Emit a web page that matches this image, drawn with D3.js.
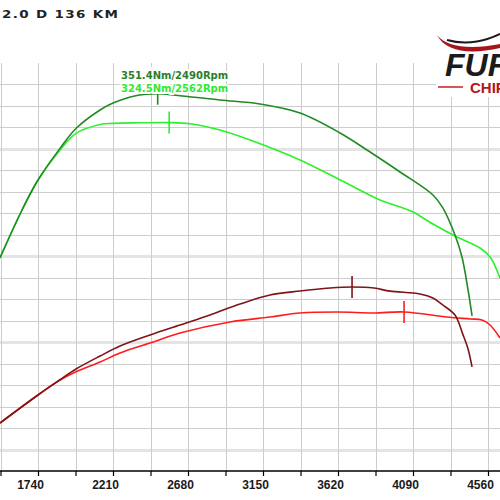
<!DOCTYPE html>
<html>
<head>
<meta charset="utf-8">
<script src="https://cdn.jsdelivr.net/npm/d3@7"></script>
<style>
  body { margin: 0; background: #fff; }
  svg { display: block; }
</style>
</head>
<body>
<svg id="chart" width="500" height="500"></svg>
<script>
const title = '2.0 D 136 KM';
const tickLabels = [1740, 2210, 2680, 3150, 3620, 4090, 4560];
const minorTicks = [1505, 1975, 2445, 2915, 3385, 3855, 4325];
const gridValues = [20, 40, 60, 80, 100, 120, 140, 160, 180, 200, 220, 240, 260, 280, 300, 320, 340, 360];
const majorGridValues = [20, 120, 200, 300];

// [rpm, value]
const tunedTorque = [
  [1502, 198.4], [1640, 243.1], [1740, 271.0], [1878, 300.5], [1978, 319.0],
  [2129, 336.2], [2210, 342.7], [2360, 349.8], [2490, 351.4], [2605, 350.0],
  [2881, 345.5], [3131, 341.8], [3382, 333.4], [3633, 314.8], [3821, 297.1],
  [4009, 278.5], [4215, 257.1], [4278, 244.9], [4353, 219.8], [4397, 199.3],
  [4435, 168.6], [4460, 144.4]
];
const stockTorque = [
  [1502, 199.0], [1640, 243.1], [1740, 271.0], [1878, 299.0], [1978, 314.5],
  [2129, 322.8], [2210, 323.8], [2379, 324.3], [2562, 324.5], [2693, 323.4],
  [2881, 317.6], [3069, 308.3], [3382, 289.7], [3695, 266.4], [3883, 252.4],
  [4009, 245.9], [4090, 241.2], [4215, 230.0], [4353, 218.9], [4510, 207.7],
  [4573, 199.3], [4635, 179.8]
];
const tunedPower = [
  [1502, 44.7], [1740, 70.8], [1878, 85.0], [1978, 95.0], [2129, 107.1],
  [2254, 116.4], [2442, 126.7], [2630, 136.0], [2818, 145.3], [3006, 155.5],
  [3194, 163.9], [3382, 167.6], [3570, 170.4], [3708, 171.4], [3846, 170.4],
  [3946, 167.5], [4134, 164.9], [4215, 161.1], [4278, 154.5], [4353, 145.3],
  [4403, 127.0], [4435, 113.6], [4460, 96.9]
];
const stockPower = [
  [1502, 44.7], [1740, 70.8], [1878, 84.7], [1978, 92.5], [2129, 101.5],
  [2254, 109.9], [2442, 119.2], [2630, 128.5], [2943, 138.8], [3194, 143.4],
  [3382, 147.2], [3614, 148.1], [3846, 147.2], [4034, 148.1], [4303, 143.4],
  [4447, 141.6], [4522, 140.6], [4573, 136.0], [4635, 123.9]
];

const seriesData = [stockPower, tunedPower, stockTorque, tunedTorque];
const seriesColors = ['#ff1c1c', '#7e1416', '#2cf02c', '#218a21'];
const peakRpm = [4034, 3708, 2562, 2490];
const peakValue = [148.1, 171.4, 324.5, 351.4];

const svg = d3.select('#chart');
const width = 500;
const margin = { top: 63, bottom: 29 };
const height = 500;

const x = d3.scaleLinear().domain([1740, 4560]).range([38, 488]);
const y = d3.scaleLinear().domain([0, 380]).range([height - margin.bottom, margin.top]);

const allTicks = tickLabels.concat(minorTicks).sort((a, b) => a - b);

// grid
const grid = svg.append('g');
grid.selectAll('line.h')
  .data(gridValues.filter(v => !majorGridValues.includes(v)))
  .enter()
  .append('line')
  .attr('x1', 0)
  .attr('x2', width)
  .attr('y1', d => Math.round(y(d)) + 0.5)
  .attr('y2', d => Math.round(y(d)) + 0.5)
  .attr('stroke', '#cdcdcd')
  .attr('stroke-width', 1);

grid.selectAll('line.m')
  .data(majorGridValues)
  .enter()
  .append('line')
  .attr('x1', 0)
  .attr('x2', width)
  .attr('y1', d => Math.round(y(d)) + 0.5)
  .attr('y2', d => Math.round(y(d)) + 0.5)
  .attr('stroke', '#e4e4e4')
  .attr('stroke-width', 3);

grid.selectAll('line.v')
  .data(allTicks)
  .enter()
  .append('line')
  .attr('x1', d => Math.round(x(d)) + 0.5)
  .attr('x2', d => Math.round(x(d)) + 0.5)
  .attr('y1', margin.top)
  .attr('y2', y(0))
  .attr('stroke', '#cdcdcd')
  .attr('stroke-width', 1);

// x axis
const xAxis = g =>
  g
    .attr('transform', `translate(0,${y(0)})`)
    .call(d3.axisBottom(x).tickValues(allTicks).tickSize(5).tickFormat(d => tickLabels.includes(d) ? d : ''))
    .call(g => g.select('.domain').attr('d', `M0,0H${width}`).attr('stroke', '#000').attr('stroke-width', 1.6))
    .call(g => g.selectAll('.tick line').attr('stroke', '#000').attr('stroke-width', 1.2))
    .call(g => g.selectAll('.tick text')
      .attr('dx', -8)
      .attr('y', 9)
      .attr('fill', '#1a1a1a')
      .attr('font-family', 'Liberation Sans, Arial, sans-serif')
      .attr('font-weight', 'bold')
      .attr('font-size', 12));
svg.append('g').call(xAxis);

// curves
const line = d3.line()
  .x(d => x(d[0]))
  .y(d => y(d[1]))
  .curve(d3.curveCatmullRom.alpha(0.5));

svg.append('defs').append('clipPath').attr('id', 'plotClip')
  .append('rect').attr('x', 0).attr('y', margin.top).attr('width', width).attr('height', y(0) - margin.top);

const curves = svg.append('g').attr('clip-path', 'url(#plotClip)');
curves.selectAll('path')
  .data(seriesData)
  .enter()
  .append('path')
  .attr('d', line)
  .attr('fill', 'none')
  .attr('stroke', (d, i) => seriesColors[i])
  .attr('stroke-width', 1.6);

// peak markers
curves.selectAll('line.peak')
  .data(peakRpm)
  .enter()
  .append('line')
  .attr('x1', d => x(d))
  .attr('x2', d => x(d))
  .attr('y1', (d, i) => y(peakValue[i]) - 11)
  .attr('y2', (d, i) => y(peakValue[i]) + 11)
  .attr('stroke', (d, i) => seriesColors[i])
  .attr('stroke-width', 1.6);

// torque peak labels
const labelColors = ['#2b7f2b', '#30ea30'];
const labelTexts = [
  `${peakValue[3]}Nm/${peakRpm[3]}Rpm`,
  `${peakValue[2]}Nm/${peakRpm[2]}Rpm`
];
svg.append('g')
  .selectAll('text')
  .data(labelTexts)
  .enter()
  .append('text')
  .attr('x', 121)
  .attr('y', (d, i) => 79 + i * 13)
  .attr('font-family', 'DejaVu Sans, sans-serif')
  .attr('font-weight', 'bold')
  .attr('font-size', 10)
  .attr('fill', (d, i) => labelColors[i])
  .attr('stroke', '#fff')
  .attr('stroke-width', 4)
  .attr('paint-order', 'stroke')
  .text(d => d);

// logo
const logo = svg.append('g');
logo.append('rect')
  .attr('x', 436).attr('y', 28).attr('width', 64).attr('height', 69)
  .attr('fill', '#fff');
logo.append('path')
  .attr('d', 'M437,35 C446,47 470,50 500,44 L500,48 C470,55 446,52 437,35 Z')
  .attr('fill', '#a5161c');
logo.append('path')
  .attr('d', 'M447,40 C468,46 488,40 500,34')
  .attr('fill', 'none')
  .attr('stroke', '#1a1a1a')
  .attr('stroke-width', 2);
logo.append('text')
  .attr('x', 445)
  .attr('y', 76)
  .attr('font-family', 'Liberation Sans, Arial, sans-serif')
  .attr('font-weight', 'bold')
  .attr('font-style', 'italic')
  .attr('font-size', 32)
  .attr('fill', '#1b1b1b')
  .text('FURIOUS');
logo.append('line')
  .attr('x1', 438).attr('x2', 463).attr('y1', 87).attr('y2', 87)
  .attr('stroke', '#c42026').attr('stroke-width', 1.5);
logo.append('text')
  .attr('x', 470)
  .attr('y', 93)
  .attr('font-family', 'Liberation Sans, Arial, sans-serif')
  .attr('font-weight', 'bold')
  .attr('font-size', 15)
  .attr('fill', '#b3161c')
  .text('CHIPTUNING');

// title
svg.append('text')
  .attr('transform', 'translate(2,18) scale(1.35,1)')
  .attr('font-family', 'DejaVu Sans, sans-serif')
  .attr('font-weight', 'bold')
  .attr('font-size', 10)
  .attr('letter-spacing', 1)
  .attr('fill', '#222')
  .text(title);
</script>
</body>
</html>
